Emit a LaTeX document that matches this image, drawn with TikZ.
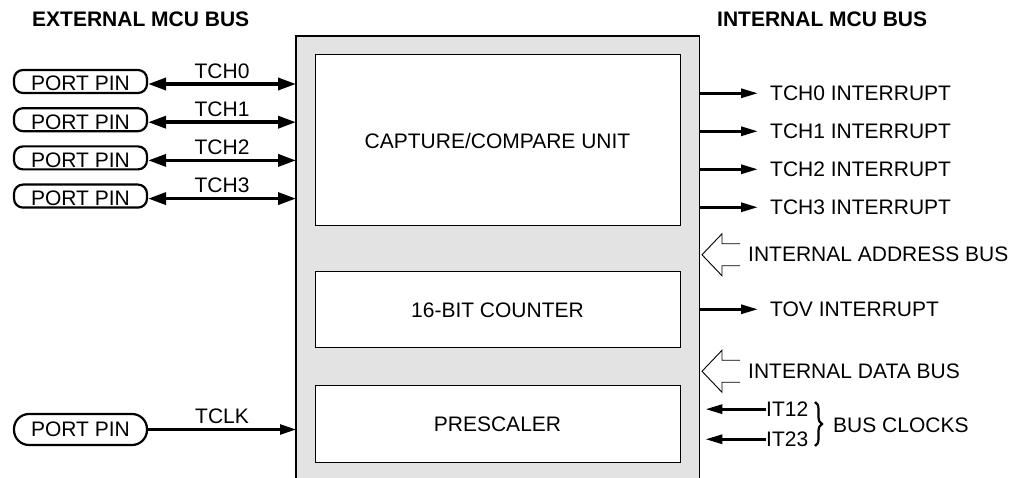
\documentclass[tikz,border=0pt]{standalone}
\usepackage{fontspec}
\setmainfont{Liberation Sans}
\usetikzlibrary{arrows.meta,calc,positioning,decorations.pathreplacing}
\definecolor{boxgray}{HTML}{E3E3E3}
\tikzset{
  block/.style = {
    draw, fill=white, line width=1pt, minimum width=365pt, inner sep=0pt
  },
  pin/.style = {
    draw, line width=2.2pt, rounded corners=9pt, minimum width=133pt,
    inner xsep=0pt, inner ysep=2pt, text height=19pt, text depth=-5pt
  },
  clkpin/.style = {
    draw, line width=2.2pt, rounded corners=15pt, minimum width=133pt,
    minimum height=31pt, inner sep=0pt
  },
  chan/.style = {
    <->,
    line width=3.5pt,
    >={Triangle[length=18pt,width=12pt]}
  },
  intr/.style = {
    ->,
    line width=3pt,
    >={Triangle[length=17pt,width=9pt]}
  },
  clk/.style = {
    ->,
    line width=2.5pt,
    >={Triangle[length=16pt,width=10pt]}
  },
  bus/.style = {
    line width=0.9pt
  },
  txt/.style = {inner sep=0pt, anchor=base west},
  chanlbl/.style = {inner sep=0pt}
}
\newcommand\busarrow[1]{\draw[bus] ($(#1.west)+(-8,-11)$) -- ++(-18,0)
  -- ++(0,-10) -- ++(-20,21) -- ++(20,21) -- ++(0,-10) -- ++(18,0);}

\begin{document}
\begin{tikzpicture}[x=1pt, y=-1pt, font=\fontsize{21}{25}\selectfont]
		\useasboundingbox (0,0) rectangle (1026,478);
		\node[txt, font=\fontsize{21}{25}\selectfont\bfseries] (lext) at (32,26.7) {EXTERNAL MCU BUS};
		\node[txt, font=\fontsize{21}{25}\selectfont\bfseries] (lint) at (717,26.7) {INTERNAL MCU BUS};
%		
		\node[fill=boxgray, inner sep=0pt, minimum width=403pt, minimum height=460pt, anchor=north west] (tim) at (296,36) {};
		\draw[line width=1.2pt] (tim.south west) -- (tim.north west) -- (tim.north east) -- (tim.south east);
		\node[block, minimum height=171pt] (ccu) at (497.5,140.5) {CAPTURE/COMPARE UNIT};
		\node[block, minimum height=76pt] (cnt) at (497.5,310) {16-BIT COUNTER};
		\node[block, minimum height=76pt] (pre) at (497.5,424) {PRESCALER};
%		
		\node[pin, anchor=base] (pin0) at (80.5,91) {PORT PIN};
		\node[pin, anchor=base] (pin1) at ($(pin0.base)+(0,38.2)$) {PORT PIN};
		\node[pin, anchor=base] (pin2) at ($(pin1.base)+(0,38.2)$) {PORT PIN};
		\node[pin, anchor=base] (pin3) at ($(pin2.base)+(0,38.2)$) {PORT PIN};
		\node[clkpin] (pin4) at (80.5,429.5) {PORT PIN};
		
		\coordinate (c0) at ([yshift=7pt]pin0.base east);
		\coordinate (c1) at ([yshift=7pt]pin1.base east);
		\coordinate (c2) at ([yshift=7pt]pin2.base east);
		\coordinate (c3) at ([yshift=7pt]pin3.base east);
		\coordinate (e0) at (c0 -| tim.west);
		\coordinate (e1) at (c1 -| tim.west);
		\coordinate (e2) at (c2 -| tim.west);
		\coordinate (e3) at (c3 -| tim.west);
		\coordinate (e4) at (pin4.east -| tim.west);
		
		\path[chan]   (c0) edge node[chanlbl, above=4pt] (tch0) {TCH0} (e0);
		\path[chan]   (c1) edge node[chanlbl, above=4pt] (tch1) {TCH1} (e1);
		\path[chan]   (c2) edge node[chanlbl, above=4pt] (tch2) {TCH2} (e2);
		\path[chan]   (c3) edge node[chanlbl, above=4pt] (tch3) {TCH3} (e3);
		\path[clk]   (pin4.east) edge node[chanlbl, above=5pt] (tclk) {TCLK} (e4);
%		
		\node[txt] (int0) at (770,100.5) {TCH0 INTERRUPT};
		\node[txt] (int1) at ($(int0.base west)+(0,38)$) {TCH1 INTERRUPT};
		\node[txt] (int2) at ($(int1.base west)+(0,38)$) {TCH2 INTERRUPT};
		\node[txt] (int3) at ($(int2.base west)+(0,38)$) {TCH3 INTERRUPT};
		\node[txt] (tov) at (770,316.5) {TOV INTERRUPT};
		
		\path[intr]   (int0.west -| tim.east) edge ([xshift=-12pt]int0.west);
		\path[intr]   (int1.west -| tim.east) edge ([xshift=-12pt]int1.west);
		\path[intr]   (int2.west -| tim.east) edge ([xshift=-12pt]int2.west);
		\path[intr]   (int3.west -| tim.east) edge ([xshift=-12pt]int3.west);
		\path[intr]   (tov.west -| tim.east) edge ([xshift=-12pt]tov.west);
		
		\node[txt] (iab) at (748,262) {INTERNAL ADDRESS BUS};
		\node[txt] (idb) at (748,378.5) {INTERNAL DATA BUS};
		\busarrow{iab}
		\busarrow{idb}
		
		\node[txt] (it12) at (766,416.5) {IT12};
		\node[txt] (it23) at (766,446.5) {IT23};
		\path[intr]   (it12.west) edge ($(it12.west -| tim.east)+(6,0)$);
		\path[intr]   (it23.west) edge ($(it23.west -| tim.east)+(6,0)$);
		\draw[decorate, decoration={brace, amplitude=7pt}, line width=2.2pt] (815,402) -- (815,446);
		\node[txt] (bclk) at (833,432) {BUS CLOCKS};
	\end{tikzpicture}
\end{document}
